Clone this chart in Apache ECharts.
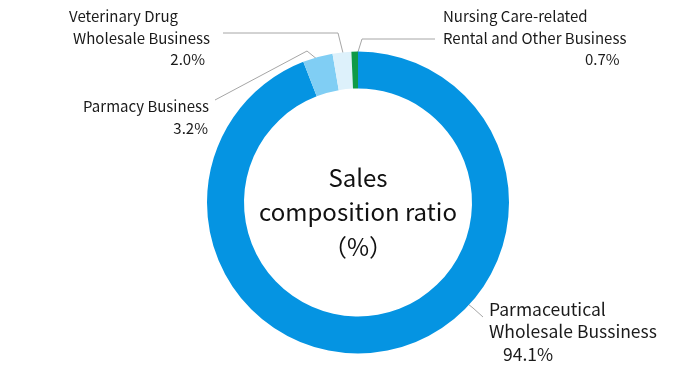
<!DOCTYPE html>
<html>
<head>
<meta charset="utf-8">
<script src="https://cdn.jsdelivr.net/npm/echarts@6/dist/echarts.min.js"></script>
<style>
html,body{margin:0;padding:0;background:#fff;}
#main{width:693px;height:390px;}
</style>
</head>
<body>
<div id="main"></div>
<script>
const categories = [
  'Parmaceutical\nWholesale Bussiness',
  'Parmacy Business',
  'Veterinary Drug\nWholesale Business',
  'Nursing Care-related\nRental and Other Business'
];
const values = [94.1, 3.2, 2.0, 0.7];
const colors = ['#0594E2', '#80CEF4', '#DDF1FB', '#0F9A47'];
const centerLines = ['Sales', 'composition ratio', '（%）'];

// label placement (layout only)
const labelPlace = [
  { x: 489, y: 298, align: 'left', size: 17.5, lh: 22.5, pads: [[0,0,0,0],[0,0,0,0],[0,0,0,14]], line: [[463,300],[473,308],[483,317]] },
  { x: 209, y: 96, align: 'right', size: 15, lh: 21.5, pads: [[0,0,0,0],[0,1,0,0]], line: [[318,60],[307,51],[215,100]] },
  { x: 210, y: 6, align: 'right', size: 15, lh: 21.5, pads: [[0,32,0,0],[0,0,0,0],[0,5,0,0]], line: [[343,53],[338,33],[223,33]] },
  { x: 443, y: 6, align: 'left', size: 15, lh: 21.5, pads: [[0,0,0,0],[0,0,0,0],[0,0,0,142]], line: [[357,55],[362,39],[435,39]] }
];

const FONT = '"Noto Sans CJK JP", "Noto Sans", sans-serif';

const data = categories.map((name, i) => {
  const place = labelPlace[i];
  const rich = {};
  place.pads.forEach((p, k) => {
    rich['l' + k] = { padding: p, align: place.align, fontSize: place.size, lineHeight: place.lh, color: '#1a1a1a', fontFamily: FONT };
  });
  return {
    name: name,
    value: values[i],
    itemStyle: { color: colors[i] },
    label: { rich: rich, align: place.align, fontSize: place.size, lineHeight: place.lh }
  };
});

const chart = echarts.init(document.getElementById('main'), null, { renderer: 'canvas' });
chart.setOption({
  backgroundColor: '#ffffff',
  animation: false,
  graphic: [{
    type: 'text',
    x: 358,
    y: 212,
    style: {
      text: centerLines.join('\n'),
      textAlign: 'center',
      textVerticalAlign: 'middle',
      fontSize: 24,
      lineHeight: 34.5,
      fontFamily: FONT,
      fill: '#111'
    }
  }],
  series: [{
    type: 'pie',
    center: [358, 202.5],
    radius: [114, 151],
    startAngle: 90,
    clockwise: true,
    avoidLabelOverlap: false,
    data: data,
    label: {
      show: true,
      position: 'outside',
      fontFamily: FONT,
      fontSize: 15,
      lineHeight: 22,
      color: '#1a1a1a',
      formatter: function (p) {
        const lines = p.name.split('\n');
        lines.push(p.value.toFixed(1) + '%');
        return lines.map((t, k) => '{l' + k + '|' + t + '}').join('\n');
      }
    },
    labelLine: {
      show: true,
      lineStyle: { color: '#a6a6a6', width: 1 }
    },
    labelLayout: function (params) {
      const pl = labelPlace[params.dataIndex];
      return {
        x: pl.x,
        y: pl.y,
        align: pl.align,
        verticalAlign: 'top',
        labelLinePoints: pl.line
      };
    },
    emphasis: { disabled: true }
  }]
});
</script>
</body>
</html>
